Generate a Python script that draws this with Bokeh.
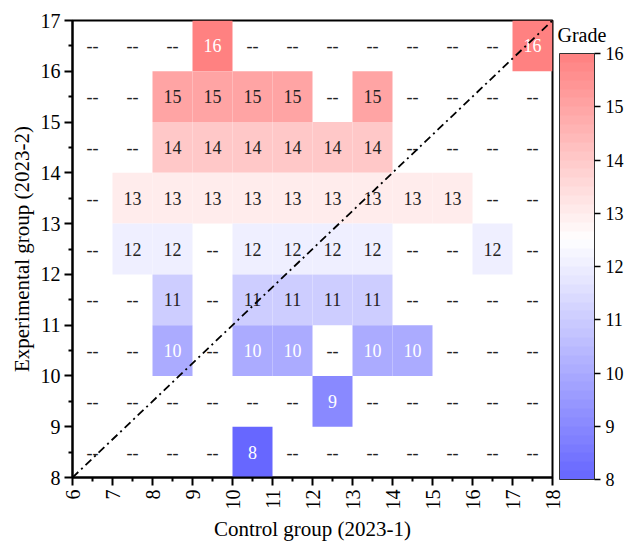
import math
from bokeh.plotting import figure
from bokeh.models import (ColumnDataSource, LinearColorMapper, ColorBar,
                          FixedTicker, Range1d, Label)
from bokeh.core.properties import value
from bokeh.embed import file_html
from bokeh.resources import INLINE

# ---------------- data ----------------
N = None
x_cells = [6, 7, 8, 9, 10, 11, 12, 13, 14, 15, 16, 17]   # control group grade (cell left edge)
y_cells = [16, 15, 14, 13, 12, 11, 10, 9, 8]              # experimental group grade (cell bottom edge)
row_16 = [N, N, N, 16, N, N, N, N, N, N, N, 16]
row_15 = [N, N, 15, 15, 15, 15, N, 15, N, N, N, N]
row_14 = [N, N, 14, 14, 14, 14, 14, 14, N, N, N, N]
row_13 = [N, 13, 13, 13, 13, 13, 13, 13, 13, 13, N, N]
row_12 = [N, 12, 12, N, 12, 12, 12, 12, N, N, 12, N]
row_11 = [N, N, 11, N, 11, 11, 11, 11, N, N, N, N]
row_10 = [N, N, 10, N, 10, 10, N, 10, 10, N, N, N]
row_9 = [N, N, N, N, N, N, 9, N, N, N, N, N]
row_8 = [N, N, N, N, 8, N, N, N, N, N, N, N]
rows = [row_16, row_15, row_14, row_13, row_12, row_11, row_10, row_9, row_8]

x_ticks = list(range(6, 19))
y_ticks = list(range(8, 18))
grade_ticks = [8, 9, 10, 11, 12, 13, 14, 15, 16]
diag_x = [6, 18]
diag_y = [8, 17]
bar_title = "Grade"

# ---------------- styles ----------------
FONT = "Liberation Serif"
BLUE = (102, 102, 255)
RED = (255, 128, 128)
LOW, HIGH, MID = 8, 16, 12.5


def make_palette(n):
    cols = []
    for i in range(n):
        v = LOW + (i + 0.5) * (HIGH - LOW) / n
        if v <= MID:
            t = (MID - v) / (MID - LOW)
            c = tuple(round(255 + (b - 255) * t) for b in BLUE)
        else:
            t = (v - MID) / (HIGH - MID)
            c = tuple(round(255 + (r - 255) * t) for r in RED)
        cols.append("#%02x%02x%02x" % c)
    return cols


cell_mapper = LinearColorMapper(palette=make_palette(256), low=LOW, high=HIGH)
bar_mapper = LinearColorMapper(palette=make_palette(48), low=LOW, high=HIGH)

cx, cy, cv = [], [], []
tx, ty, tt, tc = [], [], [], []
for yb, row in zip(y_cells, rows):
    for xb, g in zip(x_cells, row):
        tx.append(xb + 0.5)
        ty.append(yb + 0.5)
        if g is None:
            tt.append("--")
            tc.append("#222222")
        else:
            cx.append(xb + 0.5)
            cy.append(yb + 0.5)
            cv.append(g)
            tt.append(str(g))
            tc.append("white" if (g >= 16 or g <= 10) else "#222222")

cells = ColumnDataSource(dict(x=cx, y=cy, g=cv))
labels = ColumnDataSource(dict(x=tx, y=ty, t=tt, c=tc))

p = figure(width=630, height=543, output_backend="svg", toolbar_location=None,
           x_range=Range1d(6, 18), y_range=Range1d(8, 17),
           min_border_left=72, min_border_top=20, min_border_bottom=62,
           min_border_right=78)
p.background_fill_color = "white"
p.border_fill_color = "white"
p.outline_line_color = "black"
p.outline_line_width = 2
p.grid.visible = False

p.rect(x="x", y="y", width=1, height=1, source=cells,
       fill_color={"field": "g", "transform": cell_mapper}, line_color=None)
p.text(x="x", y="y", text="t", source=labels, text_color="c",
       text_align="center", text_baseline="middle",
       text_font=value(FONT), text_font_size="18px")
p.line(diag_x, diag_y, line_color="black", line_width=1.8, line_dash="8 4 2 4")

for ax in (p.xaxis[0], p.yaxis[0]):
    ax.axis_line_width = 2
    ax.axis_line_color = "black"
    ax.major_tick_line_width = 2
    ax.minor_tick_line_width = 2
    ax.major_tick_out = 8
    ax.major_tick_in = 0
    ax.minor_tick_out = 4
    ax.minor_tick_in = 0
    ax.major_label_text_font = FONT
    ax.major_label_text_font_size = "20px"
    ax.major_label_text_color = "black"
    ax.axis_label_text_font = FONT
    ax.axis_label_text_font_size = "21px"
    ax.axis_label_text_font_style = "normal"
    ax.axis_label_text_color = "black"

p.xaxis.ticker = FixedTicker(ticks=x_ticks, minor_ticks=[t + 0.5 for t in x_ticks[:-1]])
p.yaxis.ticker = FixedTicker(ticks=y_ticks, minor_ticks=[t + 0.5 for t in y_ticks[:-1]])
p.xaxis.major_label_orientation = math.pi / 2
p.xaxis.axis_label = "Control group (2023-1)"
p.yaxis.axis_label = "Experimental group (2023-2)"
p.xaxis.major_label_standoff = 4
p.yaxis.major_label_standoff = 4
p.xaxis.axis_label_standoff = 4
p.yaxis.axis_label_standoff = 4

cb = ColorBar(color_mapper=bar_mapper, width=35, height=426,
              location=(487, -2), padding=0, margin=0,
              ticker=FixedTicker(ticks=grade_ticks),
              major_label_text_font=FONT, major_label_text_font_size="18px",
              major_label_text_color="black",
              major_tick_out=6, major_tick_in=0, major_tick_line_color="black",
              major_tick_line_width=1.5,
              minor_tick_line_color=None,
              bar_line_color="#333333", bar_line_width=1,
              label_standoff=5,
              background_fill_alpha=0, border_line_color=None)
p.add_layout(cb, "center")

title_lbl = Label(x=557, y=34, x_units="canvas", y_units="canvas", text=bar_title,
                  text_font=FONT, text_font_size="20px", text_color="black",
                  text_align="left", text_baseline="alphabetic")
p.add_layout(title_lbl, "right")

open("out.html", "w").write(file_html(p, INLINE))
